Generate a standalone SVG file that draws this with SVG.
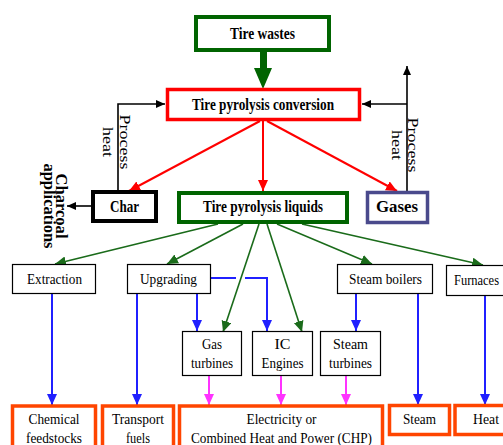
<svg xmlns="http://www.w3.org/2000/svg" width="503" height="445" viewBox="0 0 503 445">
<style>
text{font-family:"Liberation Serif","Times New Roman",serif;font-size:15px;fill:#000;text-anchor:middle}
.b{font-weight:bold;font-size:16px}
.box{fill:#fff;stroke:#000;stroke-width:1.2}
.out{fill:#fff;stroke:#ff4500;stroke-width:3.5}
.blk{fill:none;stroke:#000;stroke-width:1.6}
.red{fill:none;stroke:#ff0000;stroke-width:2}
.grn{fill:none;stroke:#1a6b1a;stroke-width:1.6}
.blu{fill:none;stroke:#2020ff;stroke-width:2}
.mag{fill:none;stroke:#ff33ff;stroke-width:2}
</style>
<defs>
<marker id="ak" markerUnits="userSpaceOnUse" markerWidth="10" markerHeight="10" refX="9" refY="4" orient="auto"><path d="M0,0 L9,4 L0,8 z" fill="#000"/></marker>
<marker id="ar" markerUnits="userSpaceOnUse" markerWidth="12" markerHeight="12" refX="11" refY="5" orient="auto"><path d="M0,0 L11,5 L0,10 z" fill="#ff0000"/></marker>
<marker id="ag" markerUnits="userSpaceOnUse" markerWidth="12" markerHeight="12" refX="11" refY="5" orient="auto"><path d="M0,0 L11,5 L0,10 z" fill="#1a6b1a"/></marker>
<marker id="ab" markerUnits="userSpaceOnUse" markerWidth="12" markerHeight="12" refX="11" refY="5" orient="auto"><path d="M0,0 L11,5 L0,10 z" fill="#2020ff"/></marker>
<marker id="am" markerUnits="userSpaceOnUse" markerWidth="12" markerHeight="12" refX="11" refY="5" orient="auto"><path d="M0,0 L11,5 L0,10 z" fill="#ff33ff"/></marker>
</defs>
<rect width="503" height="445" fill="#fff"/>

<g id="connectors">
  <path d="M260,52 h7 v16 h5 l-9,21 l-9,-21 h6 z" fill="#006400"/>
  <path class="blk" d="M118,190 V104 H165" marker-end="url(#ak)"/>
  <path class="blk" d="M407,191 V66"  marker-end="url(#ak)"/>
  <path class="blk" d="M407,104 H362" marker-end="url(#ak)"/>
  <path class="blk" d="M91,206 H67" marker-end="url(#ak)"/>
  <path class="red" d="M260,121 L129,191" marker-end="url(#ar)"/>
  <path class="red" d="M263,121 V191" marker-end="url(#ar)"/>
  <path class="red" d="M267,121 L397,191" marker-end="url(#ar)"/>
  <path class="blu" d="M52,294 V405" marker-end="url(#ab)"/>
  <path class="blu" d="M137,294 V405" marker-end="url(#ab)"/>
  <path class="blu" d="M197,294 V331" marker-end="url(#ab)"/>
  <path class="blu" d="M211,278 H267 V331" marker-end="url(#ab)"/>
  <path class="blu" d="M356,294 V331" marker-end="url(#ab)"/>
  <path class="blu" d="M418,294 V405" marker-end="url(#ab)"/>
  <path class="blu" d="M485,296 V405" marker-end="url(#ab)"/>
  <path d="M236,278 H245" stroke="#fff" stroke-width="3"/>
  <path class="grn" d="M218,224 L55,264" marker-end="url(#ag)"/>
  <path class="grn" d="M243,224 L167,264" marker-end="url(#ag)"/>
  <path class="grn" d="M259,224 L223,332" marker-end="url(#ag)"/>
  <path class="grn" d="M267,224 L302,332" marker-end="url(#ag)"/>
  <path class="grn" d="M277,224 L372,264" marker-end="url(#ag)"/>
  <path class="grn" d="M302,224 L483,265" marker-end="url(#ag)"/>
  <path class="mag" d="M209,376 V405" marker-end="url(#am)"/>
  <path class="mag" d="M281,376 V405" marker-end="url(#am)"/>
  <path class="mag" d="M346,376 V405" marker-end="url(#am)"/>
</g>

<g id="label-process-heat-left" transform="translate(120,142) rotate(90)">
  <text x="0" y="0" font-size="16" textLength="55" lengthAdjust="spacingAndGlyphs">Process</text>
  <text x="0" y="17" font-size="16" textLength="30" lengthAdjust="spacingAndGlyphs">heat</text>
</g>
<g id="label-process-heat-right" transform="translate(408,145) rotate(90)">
  <text x="0" y="0" font-size="16" textLength="55" lengthAdjust="spacingAndGlyphs">Process</text>
  <text x="0" y="16" font-size="16" textLength="30" lengthAdjust="spacingAndGlyphs">heat</text>
</g>
<g id="label-charcoal" transform="translate(56,206) rotate(90)">
  <text class="b" x="0" y="0" font-size="15" textLength="65" lengthAdjust="spacingAndGlyphs">Charcoal</text>
  <text class="b" x="0" y="12" font-size="15" textLength="85" lengthAdjust="spacingAndGlyphs">applications</text>
</g>

<g id="tire-wastes">
  <rect x="196" y="17" width="133" height="33" fill="#fff" stroke="#006400" stroke-width="4"/>
  <text class="b" x="262.5" y="38.5" textLength="65" lengthAdjust="spacingAndGlyphs">Tire wastes</text>
</g>
<g id="conversion">
  <rect x="167.5" y="89.5" width="192" height="30" fill="#fff" stroke="#ff0000" stroke-width="3.5"/>
  <text class="b" x="263" y="110" textLength="142" lengthAdjust="spacingAndGlyphs">Tire pyrolysis conversion</text>
</g>
<g id="char">
  <rect x="93" y="192" width="63" height="29" fill="#fff" stroke="#000" stroke-width="4"/>
  <text class="b" x="124.5" y="212" textLength="29" lengthAdjust="spacingAndGlyphs">Char</text>
</g>
<g id="liquids">
  <rect x="179" y="193" width="168" height="29" fill="#fff" stroke="#006400" stroke-width="4"/>
  <text class="b" x="263" y="212" textLength="120" lengthAdjust="spacingAndGlyphs">Tire pyrolysis liquids</text>
</g>
<g id="gases">
  <rect x="367.5" y="192.5" width="60" height="30" fill="#fff" stroke="#4a4a8c" stroke-width="3.5"/>
  <text class="b" x="397" y="212" textLength="42" lengthAdjust="spacingAndGlyphs">Gases</text>
</g>

<g id="extraction">
  <rect class="box" x="12.5" y="264.5" width="83" height="29"/>
  <text x="54.5" y="284" textLength="55" lengthAdjust="spacingAndGlyphs">Extraction</text>
</g>
<g id="upgrading">
  <rect class="box" x="127.5" y="264.5" width="83" height="29"/>
  <text x="168.5" y="284" textLength="57" lengthAdjust="spacingAndGlyphs">Upgrading</text>
</g>
<g id="steam-boilers">
  <rect class="box" x="337.5" y="264.5" width="95" height="29"/>
  <text x="385.5" y="284" textLength="73" lengthAdjust="spacingAndGlyphs">Steam boilers</text>
</g>
<g id="furnaces">
  <rect class="box" x="446.5" y="265.5" width="70" height="30"/>
  <text x="454" y="285" style="text-anchor:start" textLength="45" lengthAdjust="spacingAndGlyphs">Furnaces</text>
</g>

<g id="gas-turbines">
  <rect class="box" x="182.5" y="331.5" width="59" height="44"/>
  <text x="212" y="349" textLength="20" lengthAdjust="spacingAndGlyphs">Gas</text>
  <text x="212" y="368" textLength="42" lengthAdjust="spacingAndGlyphs">turbines</text>
</g>
<g id="ic-engines">
  <rect class="box" x="252.5" y="331.5" width="60" height="44"/>
  <text x="282.5" y="349" textLength="16" lengthAdjust="spacingAndGlyphs">IC</text>
  <text x="282.5" y="368" textLength="42" lengthAdjust="spacingAndGlyphs">Engines</text>
</g>
<g id="steam-turbines">
  <rect class="box" x="320.5" y="331.5" width="60" height="44"/>
  <text x="350.5" y="349" textLength="35" lengthAdjust="spacingAndGlyphs">Steam</text>
  <text x="350.5" y="368" textLength="43" lengthAdjust="spacingAndGlyphs">turbines</text>
</g>

<g id="chemical-feedstocks">
  <rect class="out" x="12.5" y="406" width="83" height="50"/>
  <text x="54" y="424" textLength="51" lengthAdjust="spacingAndGlyphs">Chemical</text>
  <text x="54" y="443" textLength="56" lengthAdjust="spacingAndGlyphs">feedstocks</text>
</g>
<g id="transport-fuels">
  <rect class="out" x="102.5" y="406" width="71" height="50"/>
  <text x="138" y="424" textLength="52" lengthAdjust="spacingAndGlyphs">Transport</text>
  <text x="138" y="443" textLength="24" lengthAdjust="spacingAndGlyphs">fuels</text>
</g>
<g id="electricity-chp">
  <rect class="out" x="179.5" y="406" width="203" height="50"/>
  <text x="281.5" y="424" textLength="70" lengthAdjust="spacingAndGlyphs">Electricity or</text>
  <text x="281.5" y="443" textLength="181" lengthAdjust="spacingAndGlyphs">Combined Heat and Power (CHP)</text>
</g>
<g id="steam">
  <rect class="out" x="389.5" y="405.5" width="60" height="29"/>
  <text x="419.5" y="424" textLength="33" lengthAdjust="spacingAndGlyphs">Steam</text>
</g>
<g id="heat">
  <rect class="out" x="455" y="405.5" width="60" height="29"/>
  <text x="473" y="424" style="text-anchor:start" textLength="26" lengthAdjust="spacingAndGlyphs">Heat</text>
</g>
</svg>
